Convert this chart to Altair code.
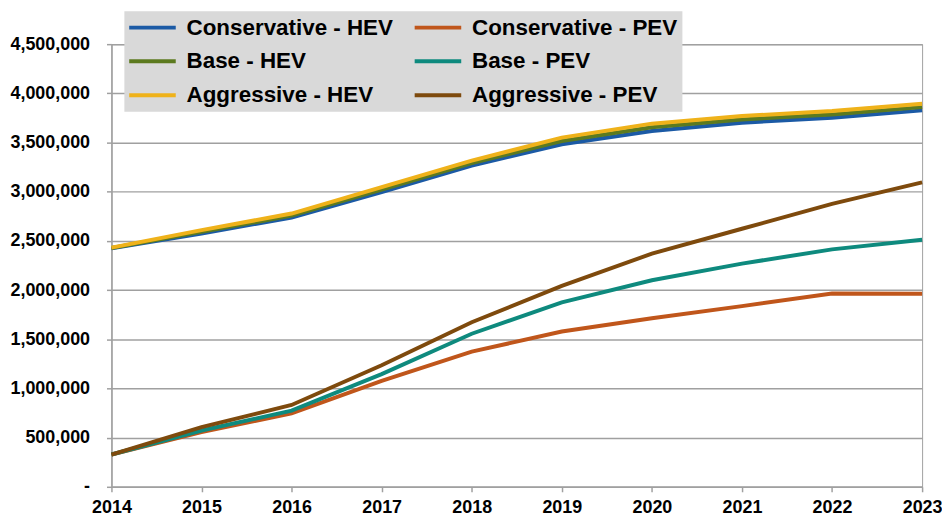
import altair as alt
import pandas as pd

years = [2014, 2015, 2016, 2017, 2018, 2019, 2020, 2021, 2022, 2023]

cons_hev = [2425000, 2576000, 2737000, 2997000, 3266000, 3483000, 3618000, 3702000, 3752000, 3827000]
base_hev = [2428000, 2592000, 2757000, 3022000, 3291000, 3516000, 3655000, 3735000, 3786000, 3860000]
aggr_hev = [2432000, 2609000, 2778000, 3047000, 3316000, 3550000, 3692000, 3769000, 3820000, 3894000]
cons_pev = [328000, 556000, 747000, 1077000, 1374000, 1578000, 1713000, 1837000, 1966000, 1963000]
base_pev = [328000, 572000, 774000, 1145000, 1556000, 1875000, 2100000, 2269000, 2414000, 2512000]
aggr_pev = [328000, 606000, 832000, 1236000, 1673000, 2043000, 2370000, 2623000, 2876000, 3095000]

# legend fills column by column: HEV series in the left column, PEV in the right
legend_order = ["Conservative - HEV", "Base - HEV", "Aggressive - HEV",
                "Conservative - PEV", "Base - PEV", "Aggressive - PEV"]
legend_colors = ["#1B5AA5", "#5C7A1F", "#EFB21A", "#C0561B", "#0E8A7E", "#7E4A0D"]

y_ticks = [0, 500000, 1000000, 1500000, 2000000, 2500000, 3000000, 3500000, 4000000, 4500000]

# drawing order (later on top)
series = [
    ("Conservative - HEV", cons_hev),
    ("Base - HEV", base_hev),
    ("Aggressive - HEV", aggr_hev),
    ("Conservative - PEV", cons_pev),
    ("Base - PEV", base_pev),
    ("Aggressive - PEV", aggr_pev),
]
rows = []
for name, vals in series:
    for yr, v in zip(years, vals):
        rows.append({"Year": yr, "Series": name, "Value": v})
df = pd.DataFrame(rows)

FONT = "Liberation Sans"
GRAY = "#A0A0A0"

chart = alt.Chart(df).mark_line(strokeWidth=4).encode(
    x=alt.X("Year:Q",
            scale=alt.Scale(domain=[2014, 2023], nice=False, zero=False),
            axis=alt.Axis(values=years, format="d", title=None, grid=False,
                          tickSize=5, tickColor=GRAY, tickWidth=1.5,
                          domainColor=GRAY, domainWidth=1.5,
                          labelPadding=7, labelFont=FONT, labelFontSize=18,
                          labelFontWeight="bold", labelColor="black",
                          labelFlush=False)),
    y=alt.Y("Value:Q",
            scale=alt.Scale(domain=[0, 4500000], nice=False),
            axis=alt.Axis(values=y_ticks, title=None,
                          labelExpr="datum.value == 0 ? '-' : format(datum.value, ',')",
                          grid=True, gridColor=GRAY, gridWidth=1.5,
                          tickSize=5, tickColor=GRAY, tickWidth=1.5,
                          domainColor=GRAY, domainWidth=1.5,
                          labelPadding=17, labelFont=FONT, labelFontSize=18,
                          labelFontWeight="bold", labelColor="black")),
    color=alt.Color("Series:N",
                    scale=alt.Scale(domain=legend_order, range=legend_colors),
                    legend=alt.Legend(
                        title=None, orient="none", legendX=13, legendY=-33,
                        columns=2, fillColor="#D9D9D9", padding=5,
                        symbolType="M-3.27,0M-2.6,0H2.6", symbolSize=324,
                        symbolStrokeWidth=4, symbolOffset=12, labelOffset=23,
                        labelFont=FONT, labelFontSize=22.5, labelFontWeight="bold",
                        labelColor="black", rowPadding=11, columnPadding=6,
                        labelLimit=400)),
).properties(
    width=815,
    height=445,
    autosize=alt.AutoSizeParams(type="none"),
    padding={"left": 104, "top": 35, "right": 20, "bottom": 28},
).configure_view(stroke=GRAY, strokeWidth=1)

chart.save("out.html", embed_options={"renderer": "svg", "actions": False})
